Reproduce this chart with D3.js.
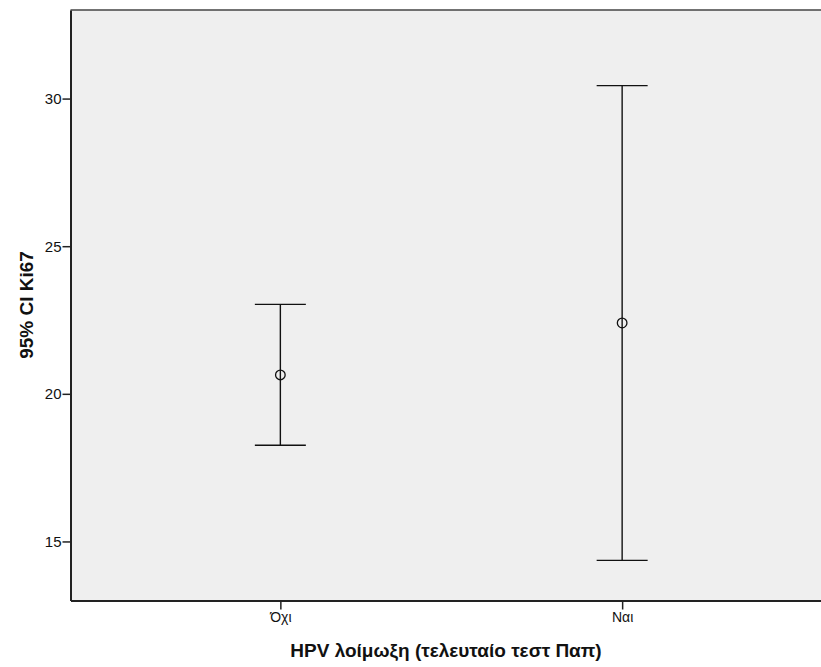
<!DOCTYPE html>
<html>
<head>
<meta charset="utf-8">
<script src="https://cdn.jsdelivr.net/npm/d3@7"></script>
<style>
  html, body { margin: 0; padding: 0; background: #fff; }
  svg { display: block; font-family: "Liberation Sans", Arial, sans-serif; }
</style>
</head>
<body>
<svg id="chart" width="821" height="667"></svg>
<script>
const categories = ["Όχι", "Ναι"];
const means = [20.64, 22.40];
const lower = [18.26, 14.36];
const upper = [23.03, 30.44];
const yTicks = [15, 20, 25, 30];
const yDomain = [13, 33];
const xTitle = "HPV λοίμωξη (τελευταίο τεστ Παπ)";
const yTitle = "95% CI Ki67";

(function () {
const svg = d3.select("#chart");
const mLeft = 70.5, mTop = 10, mBottom = 600.5, rightFull = 832;

const x = d3.scalePoint().domain(categories).range([mLeft, rightFull]).padding(0.614);
const y = d3.scaleLinear().domain(yDomain).range([mBottom, mTop]);

// plot background
svg.append("rect").attr("x", mLeft).attr("y", mTop)
  .attr("width", 821 - mLeft).attr("height", mBottom - mTop)
  .attr("fill", "#efefef");
// top border
svg.append("line").attr("x1", mLeft).attr("x2", 821).attr("y1", mTop).attr("y2", mTop)
  .attr("stroke", "#444").attr("stroke-width", 1.5);

// y axis
const yAxis = svg.append("g").attr("transform", `translate(${mLeft},0)`)
  .call(d3.axisLeft(y).tickValues(yTicks).tickSize(8).tickSizeOuter(0).tickPadding(1).tickFormat(d3.format("d")));
yAxis.select(".domain").attr("stroke", "#222").attr("stroke-width", 2);
yAxis.selectAll(".tick line").attr("stroke", "#222").attr("stroke-width", 1.5);
yAxis.selectAll(".tick text").attr("font-size", 15).attr("fill", "#111")
  .attr("font-family", "Liberation Sans, Arial, sans-serif");

// x axis
const xAxis = svg.append("g").attr("transform", `translate(0,${mBottom})`)
  .call(d3.axisBottom(x).tickSize(9).tickSizeOuter(0).tickPadding(3));
xAxis.select(".domain").attr("stroke", "#222").attr("stroke-width", 2);
xAxis.selectAll(".tick line").attr("stroke", "#222").attr("stroke-width", 1.5);
xAxis.selectAll(".tick text").attr("font-size", 14).attr("fill", "#111")
  .attr("font-family", "Liberation Sans, Arial, sans-serif");

// error bars
const capHalf = 25.5;
const g = svg.append("g");
categories.forEach((c, i) => {
  const cx = x(c);
  g.append("line").attr("x1", cx).attr("x2", cx).attr("y1", y(upper[i])).attr("y2", y(lower[i]))
    .attr("stroke", "#111").attr("stroke-width", 1.4);
  [upper[i], lower[i]].forEach(v => {
    g.append("line").attr("x1", cx - capHalf).attr("x2", cx + capHalf).attr("y1", y(v)).attr("y2", y(v))
      .attr("stroke", "#111").attr("stroke-width", 1.4);
  });
  g.append("circle").attr("cx", cx).attr("cy", y(means[i])).attr("r", 4.8)
    .attr("fill", "none").attr("stroke", "#111").attr("stroke-width", 1.3);
});

// titles
svg.append("text").attr("x", 446).attr("y", 657).attr("text-anchor", "middle")
  .attr("font-size", 19).attr("font-weight", "bold").attr("fill", "#111").text(xTitle);
svg.append("text").attr("transform", "translate(33,305) rotate(-90)").attr("text-anchor", "middle")
  .attr("font-size", 19).attr("font-weight", "bold").attr("fill", "#111").text(yTitle);
})();
</script>
</body>
</html>
